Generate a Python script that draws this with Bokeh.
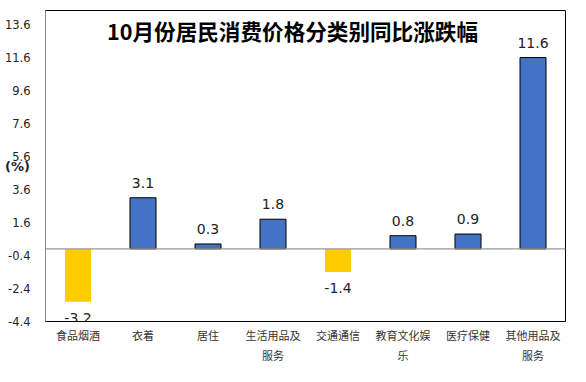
from bokeh.plotting import figure
from bokeh.models import (ColumnDataSource, FixedTicker, Span, Label, Range1d, LinearAxis,
                          CustomJSTickFormatter)
from bokeh.core.properties import value
from bokeh.embed import file_html
from bokeh.resources import INLINE

categories = ["食品烟酒", "衣着", "居住", "生活用品及服务", "交通通信", "教育文化娱乐", "医疗保健", "其他用品及服务"]
label_line1 = ["食品烟酒", "衣着", "居住", "生活用品及", "交通通信", "教育文化娱", "医疗保健", "其他用品及"]
label_line2 = ["", "", "", "服务", "", "乐", "", "服务"]
values = [-3.2, 3.1, 0.3, 1.8, -1.4, 0.8, 0.9, 11.6]
y_ticks = [-4.4, -2.4, -0.4, 1.6, 3.6, 5.6, 7.6, 9.6, 11.6, 13.6]
title_text = "10月份居民消费价格分类别同比涨跌幅"
unit_text = "(%)"

pos_color = "#4472C4"
neg_color = "#FFCC00"

idx = list(range(len(categories)))
colors = [pos_color if v >= 0 else neg_color for v in values]
line_colors = ["black" if v >= 0 else None for v in values]

src = ColumnDataSource(dict(x=idx, val=values, color=colors, lc=line_colors))
pos_src = ColumnDataSource(dict(x=[i for i, v in zip(idx, values) if v >= 0],
                                val=[v for v in values if v >= 0],
                                label=[f"{v:.1f}" for v in values if v >= 0]))
neg_src = ColumnDataSource(dict(x=[i for i, v in zip(idx, values) if v < 0],
                                val=[v for v in values if v < 0],
                                label=[f"{v:.1f}" for v in values if v < 0]))

p = figure(width=586, height=382, x_range=Range1d(-0.5, len(categories) - 0.5),
           y_range=Range1d(-4.4, 14.45),
           output_backend="svg", toolbar_location=None,
           min_border_left=45, min_border_right=21, min_border_top=10, min_border_bottom=61)

p.vbar(x="x", top="val", bottom=0, width=0.4, source=src,
       fill_color="color", line_color="lc", line_width=1)

p.add_layout(Span(location=0, dimension="width", line_color="#999999", line_width=1.2))

p.text(x="x", y="val", text="label", source=pos_src, text_align="center", text_baseline="bottom",
       y_offset=-10, text_font=value("DejaVu Sans"), text_font_size="14px", text_color="#222222")
p.text(x="x", y="val", text="label", source=neg_src, text_align="center", text_baseline="top",
       y_offset=11, text_font=value("DejaVu Sans"), text_font_size="14px", text_color="#222222")

p.add_layout(Label(x=3.3, y=13.22, text=title_text, text_align="center", text_baseline="middle",
                   text_font="Noto Sans CJK SC", text_font_size="21.6px", text_font_style="bold",
                   text_color="black"))

p.grid.visible = False
p.outline_line_color = "black"
p.outline_line_width = 1

p.yaxis.ticker = FixedTicker(ticks=y_ticks)
p.yaxis.formatter = CustomJSTickFormatter(code="return tick.toFixed(1);")
p.yaxis.major_tick_line_color = None
p.yaxis.minor_tick_line_color = None
p.yaxis.axis_line_color = "#888888"
p.yaxis.major_label_standoff = 9
p.yaxis.major_label_text_font = "DejaVu Sans"
p.yaxis.major_label_text_font_size = "11.5px"
p.yaxis.major_label_text_color = "#222222"
p.yaxis.axis_label = unit_text
p.yaxis.axis_label_orientation = "horizontal"
p.yaxis.axis_label_standoff = -28
p.yaxis.axis_label_text_font = "DejaVu Sans"
p.yaxis.axis_label_text_font_size = "13px"
p.yaxis.axis_label_text_font_style = "bold"
p.yaxis.axis_label_text_color = "#222222"

p.xaxis.ticker = FixedTicker(ticks=idx)
p.xaxis.formatter = CustomJSTickFormatter(args=dict(labels=label_line1),
                                          code="return labels[Math.round(tick)] || '';")
p.xaxis.major_tick_line_color = None
p.xaxis.minor_tick_line_color = None
p.xaxis.axis_line_color = "black"
p.xaxis.major_label_standoff = -1
p.xaxis.major_label_text_font = "Noto Sans CJK SC"
p.xaxis.major_label_text_font_size = "11px"
p.xaxis.major_label_text_color = "#333333"

ax2 = LinearAxis(ticker=FixedTicker(ticks=idx),
                 formatter=CustomJSTickFormatter(args=dict(labels=label_line2),
                                                 code="return labels[Math.round(tick)] || '';"),
                 major_tick_line_color=None, minor_tick_line_color=None, axis_line_color=None,
                 major_label_standoff=-5,
                 major_label_text_font="Noto Sans CJK SC",
                 major_label_text_font_size="11px",
                 major_label_text_color="#333333")
p.add_layout(ax2, "below")

open("out.html", "w").write(file_html(p, INLINE))
